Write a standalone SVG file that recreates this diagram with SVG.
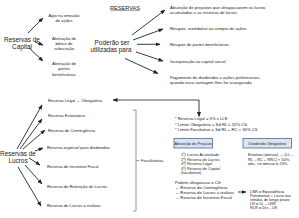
<svg xmlns="http://www.w3.org/2000/svg" width="299" height="218" viewBox="0 0 299 218">
<defs>
<marker id="ah" markerWidth="5" markerHeight="4" refX="4.5" refY="2" orient="auto" markerUnits="userSpaceOnUse"><path d="M0,0 L5,2 L0,4 z" fill="#1b2535"/></marker>
<style>
text{font-family:"Liberation Sans",Arial,sans-serif;fill:#222;}
.big{font-size:6.4px;}
.sm{font-size:4.2px;}
.xs{font-size:3.9px;}
.c{text-anchor:middle;}
.ar{stroke:#1b2535;stroke-width:0.9;fill:none;marker-end:url(#ah);}
.ln{stroke:#1b2535;stroke-width:0.8;fill:none;}
.br{stroke:#8090a0;stroke-width:0.9;fill:none;}
.box{fill:#dbe5f1;stroke:#4a6a94;stroke-width:0.8;}
</style>
</defs>
<rect width="299" height="218" fill="#ffffff"/>

<g id="reservas-capital"><text class="big c" x="22" y="41.5">Reservas de</text><text class="big c" x="22" y="48.5">Capital</text></g>
<g id="agio"><text class="sm c" x="64" y="17">Ágio na emissão</text><text class="sm c" x="64" y="22">de ações</text></g>
<g id="bonus"><text class="sm c" x="64" y="40">Alienação de</text><text class="sm c" x="64" y="45">bônus de</text><text class="sm c" x="64" y="50">subscrição</text></g>
<g id="partes"><text class="sm c" x="64" y="65">Alienação de</text><text class="sm c" x="64" y="70">partes</text><text class="sm c" x="64" y="75.5">beneficiárias</text></g>

<g id="titulo"><text class="big c" x="125" y="9.5" style="font-size:5.6px">RESERVAS</text><line x1="110.5" y1="10.6" x2="139.5" y2="10.6" stroke="#222" stroke-width="0.4"/></g>
<g id="poderao"><text class="big c" x="112" y="45">Poderão ser</text><text class="big c" x="111" y="51.5">utilizadas para</text></g>

<g id="usos">
<text class="sm" x="170" y="8.5">Absorção de prejuízos que ultrapassarem os lucros</text>
<text class="sm" x="170" y="13.5">acumulados e as reservas de lucros</text>
<text class="sm" x="170" y="30">Resgate, reembolso ou compra de ações</text>
<text class="sm" x="170" y="45.5">Resgate de partes beneficiárias</text>
<text class="sm" x="170" y="62.5">Incorporação ao capital social</text>
<text class="sm" x="170" y="78.5">Pagamento de dividendos a ações preferenciais,</text>
<text class="sm" x="170" y="84">quando essa vantagem lhes for assegurada</text>
</g>

<g id="reservas-lucros"><text class="big c" x="18" y="156">Reservas de</text><text class="big c" x="18" y="162.5">Lucros</text></g>
<g id="legal"><text class="sm" x="48" y="101.5">Reserva Legal</text><text class="sm" x="76" y="101.5">→ Obrigatória</text></g>
<g id="estatutaria"><text class="sm" x="48" y="116.5">Reserva Estatutária</text></g>
<g id="contingencia"><text class="sm" x="48" y="132">Reserva de Contingência</text></g>
<g id="especial"><text class="sm" x="47" y="149">Reserva especial para dividendos</text></g>
<g id="incentivo"><text class="sm" x="47" y="167.5">Reserva de Incentivo Fiscal</text></g>
<g id="retencao"><text class="sm" x="47" y="187.5">Reserva de Retenção de Lucros</text></g>
<g id="realizar"><text class="sm" x="47" y="206.5">Reserva de Lucros a realizar</text></g>
<g id="facultativas"><text class="sm" x="141" y="162">Facultativas</text></g>

<g id="limites">
<text class="sm" x="175" y="120">* Reserva Legal = 5% x LLE</text>
<text class="sm" x="175" y="125.5">* Limite Obrigatório = Sd RL ≤ 20% CS</text>
<text class="sm" x="175" y="131">* Limite Facultativo = Sd RL + RC &gt; 30% CS</text>
</g>

<g id="absorcao">
<rect class="box" x="174" y="138.5" width="38.5" height="9.5"/>
<text class="xs c" x="193.2" y="144.6">Absorção de Prejuízo</text>
<text class="xs" x="181" y="156">1º) Lucros Acumulado</text>
<text class="xs" x="181" y="160.5">2º) Reserva de Lucros</text>
<text class="xs" x="181" y="165">3º) Reserva Legal</text>
<text class="xs" x="181" y="169.5">4º) Reserva de Capital</text>
<text class="xs" x="181" y="174">(facultativo)</text>
</g>

<g id="dividendo">
<rect class="box" x="243" y="138.5" width="48.5" height="9.5"/>
<text class="xs c" x="267.2" y="144.6">Dividendo Obrigatório</text>
<text class="xs" x="248" y="156">Estatuto (omisso) → (LL –</text>
<text class="xs" x="248" y="160.5">RL – RC + RRC) × 50%;</text>
<text class="xs" x="248" y="165">obs.: se omisso = 25%</text>
</g>

<g id="ultrapassar">
<text class="sm" x="175" y="183.5">Podem ultrapassar o CS:</text>
<text class="sm" x="175" y="188.5">→ Reserva de Contingência</text>
<text class="sm" x="175" y="193.5">→ Reserva de Lucros a realizar</text>
<text class="sm" x="175" y="198.5">→ Reserva de Incentivo Fiscal</text>
</g>

<g id="lnr">
<text class="xs" x="250" y="193">LNR = Equivalência</text>
<text class="xs" x="250" y="197">Patrimonial + Lucro nas</text>
<text class="xs" x="250" y="201">vendas de longo prazo</text>
<text class="xs" x="250" y="205">LR = LL – LNR</text>
<text class="xs" x="250" y="209">RLR = Div – LR</text>
</g>

<g id="connectors">
<line class="ar" x1="28" y1="33" x2="43" y2="18"/>
<line class="ar" x1="35" y1="42" x2="43" y2="45"/>
<line class="ar" x1="29" y1="48" x2="43" y2="61"/>

<line class="ar" x1="132" y1="35" x2="165" y2="10"/>
<line class="ar" x1="133" y1="40" x2="163" y2="29"/>
<line class="ar" x1="137" y1="44.3" x2="160" y2="44.3"/>
<line class="ar" x1="136" y1="52" x2="163" y2="61"/>
<line class="ar" x1="125" y1="58.5" x2="158" y2="73.5"/>

<line class="ar" x1="17" y1="149" x2="42" y2="105"/>
<line class="ar" x1="20" y1="149" x2="42" y2="119"/>
<line class="ar" x1="23" y1="149" x2="45" y2="130"/>
<line class="ar" x1="35" y1="151" x2="43" y2="148"/>
<line class="ar" x1="29" y1="158" x2="40" y2="165"/>
<line class="ar" x1="25" y1="165" x2="42" y2="184"/>
<line class="ar" x1="18" y1="167" x2="41" y2="206"/>

<polyline class="ln" points="199,100 113,100" marker-end="url(#ah)"/>
<line class="ar" x1="199" y1="100" x2="199" y2="116.5"/>

<polyline class="br" points="133,110 136,110 136,211 133,211"/>
<line class="br" x1="136" y1="160.5" x2="139.5" y2="160.5"/>

<line class="ar" x1="238" y1="192" x2="246" y2="192"/>
</g>
</svg>
